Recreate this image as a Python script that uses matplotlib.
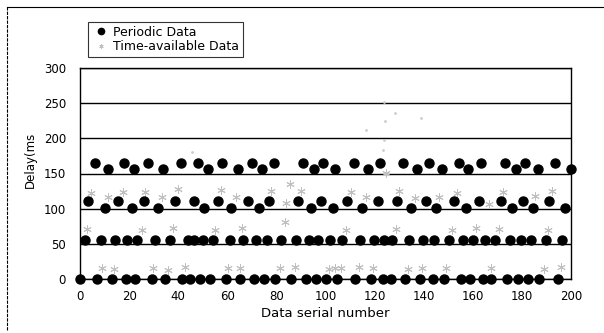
import matplotlib
matplotlib.use("Agg")
import matplotlib.pyplot as plt
from matplotlib.lines import Line2D

# Periodic data, 4 delay levels
per_top_x = [6, 11.6, 18, 22, 27.6, 34, 41, 48, 52, 58, 64.4, 70, 74, 79, 91, 95.5, 99, 104,
             111.6, 117.3, 122.4, 131.5, 137.4, 142.2, 147.3, 154.4, 158, 163.5, 173.3, 177.5,
             181.3, 186.6, 193.5, 200]
per_top_y = [165, 157, 165, 157, 165, 157, 165, 165, 157, 165, 157, 165, 157, 165, 165, 157, 165, 157,
             165, 157, 165, 165, 157, 165, 157, 165, 157, 165, 165, 157,
             165, 157, 165, 157]
per_mid_x = [3.4, 10.2, 15.6, 21, 26, 31.8, 38.8, 46.5, 50.6, 56.3, 61.5, 68.3, 72.8, 76.8, 89, 93.9,
             98, 103, 108.8, 115, 121.2, 129.3, 135, 141, 145, 152.3, 157.1, 162.5, 171.3, 176,
             180.3, 184.6, 191, 197.7]
per_mid_y = [111, 101, 111, 101, 111, 101, 111, 111, 101, 111, 101, 111, 101, 111, 111, 101,
             111, 101, 111, 101, 111, 111, 101, 111, 101, 111, 101, 111, 111, 101,
             111, 101, 111, 101]
per_low_x = [2, 8.5, 14.4, 19.2, 23.3, 30.6, 36.7, 43.8, 46.5, 50, 54, 61, 66.5, 71.5, 76.2, 82, 87.8,
             93.2, 97, 102, 106.8, 114, 119.7, 124, 127, 134, 139.8, 144.2, 150.3, 156, 160, 165,
             169, 175.1, 179.5, 183.6, 189.7, 196.3]
per_zero_x = [0, 6.8, 13, 18.9, 22.5, 29.3, 34.8, 41.6, 45, 49, 52.8, 59.5, 65.1, 70.7, 75, 79.5, 86,
              92, 96, 100, 104.8, 112.2, 118.4, 123.5, 126.5, 132.2, 138.5, 143.6, 148.3, 155, 159,
              164, 167.5, 174.1, 178.3, 182.3, 187.1, 194.6]

# Time-available data
ta_x = [8.8, 14, 29.7, 36, 42.9, 60.4, 65, 81.3, 87.5, 101.5, 104, 106.5, 113.6, 119.5, 133.5,
        139.5, 149, 167.5, 189, 196,
        2.7, 25.2, 38, 55.1, 66, 83.3, 108.2, 128.6, 151.5, 161.4, 170.7, 190.7,
        4.5, 11.3, 17.4, 26.6, 33.2, 40.1, 57.4, 63.4, 77.9, 84, 85.7, 90, 110.2, 116.3, 130,
        136.3, 146.2, 153.4, 166.7, 172.1, 185.4, 192.4, 124.5]
ta_y = [16, 14, 15, 13, 17, 15, 16, 15, 17, 14, 16, 15, 17, 15, 14,
        16, 15, 16, 14, 17,
        71, 69, 72, 69, 72, 81, 70, 71, 70, 72, 71, 70,
        122, 116, 124, 124, 117, 128, 126, 116, 125, 108, 135, 125, 124, 116, 125,
        115, 117, 122, 107, 124, 118, 125, 151]
ta_faint_x = [45.6, 116.5, 123.5, 124.3, 128.5, 138.8, 124, 124]
ta_faint_y = [181, 212, 183, 224, 236, 229, 198, 252]

x_ticks = [0, 20, 40, 60, 80, 100, 120, 140, 160, 180, 200]
y_ticks = [0, 50, 100, 150, 200, 250, 300]

plt.rcParams['font.family'] = ['DejaVu Sans']
fig = plt.figure(figsize=(6.04, 3.33), dpi=100)
ax = fig.add_axes([80 / 604, 1 - 279 / 333, 491 / 604, 211 / 333])

ax.plot(ta_x, ta_y, linestyle="none", marker=(6, 2, 0), markersize=6,
        markeredgewidth=0.7, color="#c0c0c0", zorder=2)
ax.plot(ta_faint_x, ta_faint_y, linestyle="none", marker="o", markersize=1,
        color="#cccccc", zorder=2)

dot = dict(linestyle="none", marker="o", markersize=6.5, color="black", zorder=3, clip_on=False)
ax.plot(per_top_x, per_top_y, **dot)
ax.plot(per_mid_x, per_mid_y, **dot)
ax.plot(per_low_x, [55] * len(per_low_x), **dot)
ax.plot(per_zero_x, [0.5] * len(per_zero_x), **dot)

ax.set_xlim(0, 200)
ax.set_ylim(0, 300)
ax.set_xticks(x_ticks)
ax.set_yticks(y_ticks)
ax.yaxis.grid(True, color="black", linewidth=1.0)
ax.set_axisbelow(True)
ax.tick_params(length=0, labelsize=8.5)
ax.tick_params(axis="x", pad=8)
ax.tick_params(axis="y", pad=10)
for s in ax.spines.values():
    s.set_linewidth(1.0)

ax.set_xlabel("Data serial number", fontsize=9.5, labelpad=3)
fig.text(30 / 604, 1 - 160 / 333, "Delay(ms", rotation=90, fontsize=8.5,
         ha="center", va="center")

handles = [Line2D([], [], linestyle="none", marker="o", markersize=4.5, color="black"),
           Line2D([], [], linestyle="none", marker=(6, 2, 0), markersize=3,
                  markeredgewidth=0.6, color="#c0c0c0")]
leg = fig.legend(handles, ["Periodic Data", "Time-available Data"],
                 loc="upper left", bbox_to_anchor=(88 / 604, 1 - 22 / 333), borderaxespad=0,
                 fontsize=9, frameon=True, fancybox=False, edgecolor="black",
                 handlelength=1.5, handletextpad=0.2, borderpad=0.3, labelspacing=0.1)
leg.get_frame().set_linewidth(0.8)

# outer chart border (left and top)
fig.add_artist(Line2D([7 / 604, 7 / 604], [1 - 330 / 333, 1 - 7 / 333], color="black",
                      linewidth=0.8, linestyle=(0, (3, 1))))
fig.add_artist(Line2D([7 / 604, 1.0], [1 - 7 / 333, 1 - 7 / 333], color="black", linewidth=0.8))

fig.savefig("out.png", dpi=100)
